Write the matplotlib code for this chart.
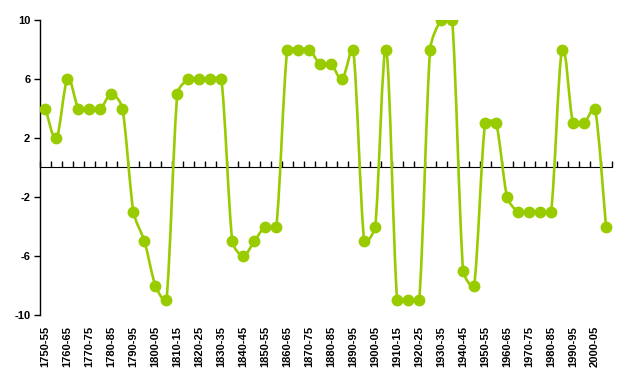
import matplotlib.pyplot as plt
from matplotlib.path import Path
from matplotlib.patches import PathPatch
import numpy as np

plt.rcParams['font.family'] = ['Liberation Sans', 'DejaVu Sans']

# five-year periods, 1750-55 .. 2005-10
periods = ['%d-%02d' % (y, (y + 5) % 100) for y in range(1750, 2010, 5)]

values = [4, 2, 6, 4, 4, 4, 5, 4, -3, -5,
          -8, -9, 5, 6, 6, 6, 6, -5, -6, -5,
          -4, -4, 8, 8, 8, 7, 7, 6, 8, -5,
          -4, 8, -9, -9, -9, 8, 10, 10, -7, -8,
          3, 3, -2, -3, -3, -3, -3, 8, 3, 3,
          4, -4]

yticks = [-10, -6, -2, 2, 6, 10]
green = '#99CC00'

fig = plt.figure(figsize=(6.23, 3.88), dpi=100)
ax = fig.add_axes([40 / 623, 1 - 315 / 388, 571.5 / 623, 295 / 388])

x = np.arange(len(values))
y = np.array(values, dtype=float)

# smoothed line: Catmull-Rom handles, clipped to a third of the segment
# (worked out in screen-like units so steep jumps do not overshoot)
sy = 14.75 / 11.0
pts = np.column_stack([x, y * sy])
n = len(pts)

def handle(i, seg):
    h = (pts[min(i + 1, n - 1)] - pts[max(i - 1, 0)]) / 6
    ln = np.hypot(*h)
    if ln > seg / 3:
        h = h * (seg / 3) / ln
    return h

verts = [(x[0], y[0])]
codes = [Path.MOVETO]
for i in range(n - 1):
    p1, p2 = pts[i], pts[i + 1]
    seg = np.hypot(*(p2 - p1))
    c1 = p1 + handle(i, seg)
    c2 = p2 - handle(i + 1, seg)
    for c in (c1, c2, p2):
        verts.append((c[0], c[1] / sy))
    codes += [Path.CURVE4] * 3
ax.add_patch(PathPatch(Path(verts, codes), fill=False, edgecolor=green, lw=1.9, zorder=2))

ax.plot(x, y, linestyle='none', marker='o', markersize=7.5, color=green, zorder=3)

ax.set_xlim(-0.5, len(values) - 0.5)
ax.set_ylim(-10, 10)

for s in ['top', 'right', 'bottom']:
    ax.spines[s].set_visible(False)
ax.spines['left'].set_linewidth(1)

ax.set_yticks(yticks)
ax.set_yticklabels([str(v) for v in yticks], fontsize=8, fontweight='bold')
ax.tick_params(axis='y', length=4, width=1, pad=3)

ax.set_xticks(x[::2])
ax.set_xticklabels(periods[::2], rotation=90, fontsize=8, fontweight='bold')
ax.tick_params(axis='x', length=0, pad=8)

# category axis crossing at zero, ticks between categories
sec = ax.secondary_xaxis(0.5)
sec.set_xticks(np.arange(-0.5, len(values), 1))
sec.set_xticklabels([])
sec.tick_params(axis='x', length=4, width=1, direction='out')
sec.spines['bottom'].set_linewidth(1)

fig.savefig('out.png', dpi=100)
